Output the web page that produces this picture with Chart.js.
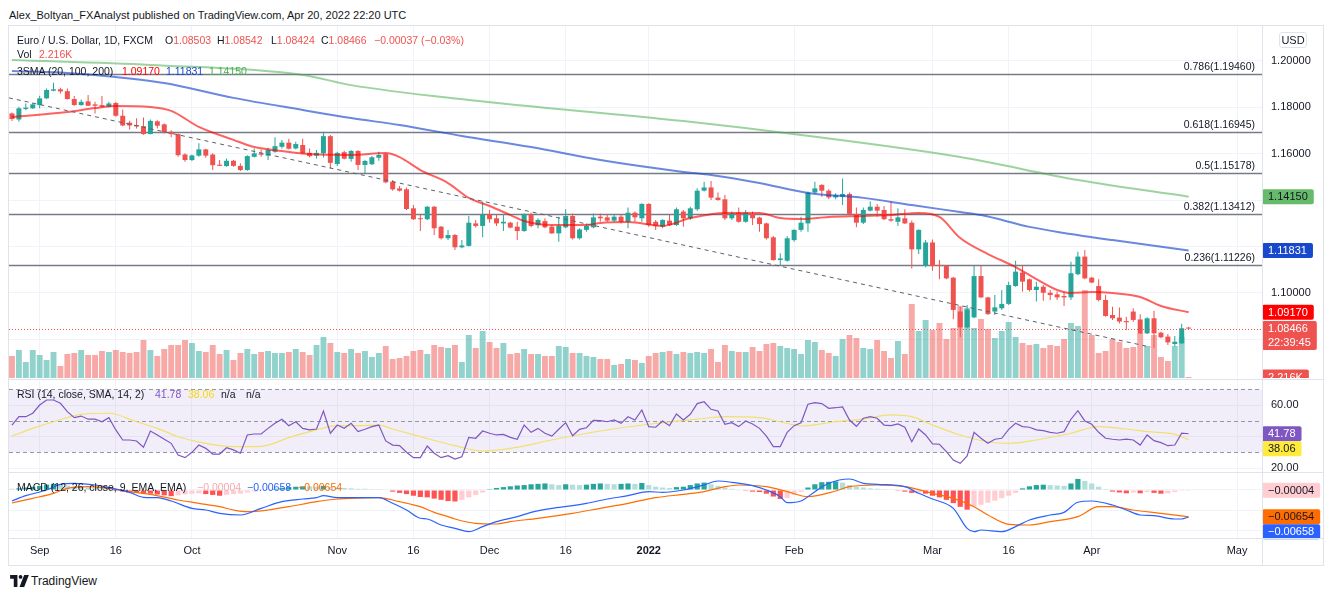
<!DOCTYPE html>
<html>
<head>
<meta charset="utf-8">
<title>EUR/USD 1D</title>
<script src="https://cdn.jsdelivr.net/npm/chart.js@4.4.0/dist/chart.umd.min.js"></script>
<style>
  body { margin: 0; width: 1332px; height: 597px; background: #fff; position: relative; overflow: hidden;
         font-family: "Liberation Sans", Arial, sans-serif; color: #131722; }
  canvas, .ln, .tx, svg { position: absolute; }
  .tx { font-size: 10.5px; line-height: 14px; white-space: pre; }
  .ln { background: #e0e3eb; }
  .dn { color: #ef5350; }
</style>
</head>
<body>
<div class="tx" style="left:9px;top:8px;font-size:11px">Alex_Boltyan_FXAnalyst published on TradingView.com, Apr 20, 2022 22:20 UTC</div>

<canvas id="cMain" width="1314" height="352" style="left:9px;top:26px"></canvas>
<canvas id="cRsi" width="1314" height="92" style="left:9px;top:380px"></canvas>
<canvas id="cMacd" width="1314" height="93" style="left:9px;top:472px"></canvas>

<!-- frame and pane separators -->
<div class="ln" style="left:8px;top:25px;width:1316px;height:1px"></div>
<div class="ln" style="left:8px;top:565px;width:1316px;height:1px"></div>
<div class="ln" style="left:8px;top:25px;width:1px;height:541px"></div>
<div class="ln" style="left:1323px;top:25px;width:1px;height:541px"></div>
<div class="ln" style="left:1262px;top:25px;width:1px;height:541px"></div>
<div class="ln" style="left:8px;top:379px;width:1316px;height:1px"></div>
<div class="ln" style="left:8px;top:472px;width:1316px;height:1px"></div>
<div class="ln" style="left:8px;top:538px;width:1316px;height:1px"></div>

<div class="tx" style="left:1279px;top:32px;width:26px;height:14px;border:1px solid #e0e3eb;border-radius:3px;text-align:center;font-size:11px">USD</div>

<div id="legend"></div>

<svg style="left:10px;top:575px" width="19" height="12" viewBox="0 0 36 23">
  <path d="M0 0h14v23H7V7H0z" fill="#131722"/>
  <circle cx="20" cy="3.6" r="3.6" fill="#131722"/>
  <path d="M27 0h9l-9 23h-9z" fill="#131722"/>
</svg>
<div class="tx" style="left:31px;top:574px;font-size:12px">TradingView</div>

<script>
// ---- DATA (EUR/USD daily, Aug 26 2021 .. Apr 21 2022) ----
const opens = [
  1.1774,1.1748,1.1793,1.1796,1.1810,1.1839,1.1872,1.1878,1.1870,1.1836,
  1.1810,1.1826,1.1813,1.1810,1.1803,1.1819,1.1764,1.1734,1.1724,1.1719,
  1.1685,1.1740,1.1727,1.1695,1.1685,1.1597,1.1573,1.1592,1.1619,1.1597,
  1.1553,1.1547,1.1570,1.1548,1.1530,1.1587,1.1602,1.1592,1.1609,1.1630,
  1.1648,1.1623,1.1638,1.1604,1.1592,1.1602,1.1676,1.1556,1.1607,1.1578,
  1.1612,1.1552,1.1555,1.1583,1.1599,1.1480,1.1451,1.1447,1.1365,1.1322,
  1.1318,1.1372,1.1286,1.1236,1.1250,1.1197,1.1203,1.1300,1.1289,1.1339,
  1.1322,1.1300,1.1303,1.1286,1.1267,1.1339,1.1292,1.1310,1.1286,1.1257,
  1.1283,1.1332,1.1236,1.1272,1.1283,1.1329,1.1326,1.1312,1.1329,1.1307,
  1.1346,1.1322,1.1384,1.1307,1.1286,1.1312,1.1293,1.1351,1.1322,1.1361,
  1.1441,1.1455,1.1411,1.1404,1.1322,1.1346,1.1307,1.1339,1.1325,1.1300,
  1.1240,1.1142,1.1139,1.1228,1.1272,1.1300,1.1433,1.1466,1.1441,1.1412,
  1.1415,1.1427,1.1341,1.1303,1.1355,1.1372,1.1358,1.1318,1.1307,1.1322,
  1.1303,1.1188,1.1118,1.1218,1.1121,1.1118,1.1066,1.0920,1.0852,1.0895,
  1.1073,1.0981,1.0920,1.0934,1.0953,1.1030,1.1088,1.1059,1.1013,1.1027,
  1.1001,1.0994,1.0987,1.0981,1.1081,1.1157,1.1066,1.1030,1.0970,1.0905,
  1.0894,1.0879,1.0920,1.0886,1.0826,1.0891,1.0829,1.0812,1.0780,1.0783,
  1.08503
];
const highs = [
  1.1778,1.1803,1.1817,1.1820,1.1850,1.1882,1.1906,1.1885,1.1882,1.1849,
  1.1834,1.1853,1.1824,1.1849,1.1824,1.1824,1.1791,1.1742,1.1753,1.1757,
  1.1748,1.1745,1.1731,1.1702,1.1688,1.1602,1.1597,1.1645,1.1622,1.1602,
  1.1573,1.1580,1.1573,1.1559,1.1594,1.1623,1.1619,1.1626,1.1671,1.1659,
  1.1665,1.1652,1.1665,1.1623,1.1616,1.1695,1.1681,1.1609,1.1613,1.1616,
  1.1616,1.1573,1.1591,1.1609,1.1602,1.1487,1.1461,1.1455,1.1379,1.1336,
  1.1375,1.1375,1.1289,1.1272,1.1254,1.1228,1.1332,1.1315,1.1394,1.1358,
  1.1341,1.1336,1.1307,1.1307,1.1343,1.1346,1.1322,1.1322,1.1293,1.1329,
  1.1361,1.1343,1.1279,1.1300,1.1343,1.1343,1.1336,1.1336,1.1336,1.1369,
  1.1351,1.1387,1.1387,1.1315,1.1318,1.1336,1.1369,1.1358,1.1372,1.1451,
  1.1480,1.1483,1.1433,1.1422,1.1351,1.1369,1.1358,1.1351,1.1329,1.1303,
  1.1246,1.1171,1.1246,1.1275,1.1329,1.1437,1.1480,1.1469,1.1447,1.1430,
  1.1494,1.1433,1.1369,1.1369,1.1394,1.1384,1.1375,1.1394,1.1365,1.1361,
  1.1312,1.1275,1.1228,1.1231,1.1142,1.1121,1.1070,1.0941,1.0948,1.1116,
  1.1116,1.0984,1.0991,1.1013,1.1049,1.1139,1.1121,1.1063,1.1049,1.1034,
  1.1013,1.1006,1.1006,1.1135,1.1178,1.1185,1.1070,1.1059,1.0991,1.0941,
  1.0938,1.0898,1.0934,1.0908,1.0895,1.0924,1.0833,1.0823,1.0815,1.0867,
  1.08542
];
const lows = [
  1.1741,1.1738,1.1788,1.1793,1.1796,1.1836,1.1870,1.1860,1.1834,1.1807,
  1.1807,1.1806,1.1774,1.1800,1.1800,1.1760,1.1719,1.1705,1.1709,1.1682,
  1.1684,1.1709,1.1688,1.1671,1.1587,1.1566,1.1569,1.1587,1.1583,1.1530,
  1.1547,1.1544,1.1544,1.1526,1.1527,1.1584,1.1587,1.1573,1.1604,1.1623,
  1.1619,1.1619,1.1599,1.1584,1.1580,1.1584,1.1537,1.1547,1.1576,1.1566,
  1.1530,1.1516,1.1552,1.1570,1.1473,1.1441,1.1437,1.1358,1.1315,1.1267,
  1.1315,1.1250,1.1231,1.1228,1.1185,1.1193,1.1200,1.1282,1.1240,1.1303,
  1.1289,1.1267,1.1279,1.1228,1.1264,1.1283,1.1279,1.1279,1.1254,1.1221,
  1.1279,1.1231,1.1231,1.1264,1.1279,1.1307,1.1307,1.1307,1.1300,1.1279,
  1.1307,1.1307,1.1286,1.1272,1.1279,1.1289,1.1289,1.1286,1.1315,1.1355,
  1.1437,1.1401,1.1398,1.1315,1.1315,1.1303,1.1303,1.1293,1.1264,1.1231,
  1.1139,1.1121,1.1135,1.1221,1.1264,1.1264,1.1427,1.1415,1.1404,1.1404,
  1.1379,1.1336,1.1283,1.1297,1.1351,1.1329,1.1315,1.1307,1.1289,1.1297,
  1.1106,1.1168,1.1111,1.1096,1.1059,1.1059,1.0887,1.0809,1.0848,1.0891,
  1.0977,1.0905,1.0905,1.0927,1.0948,1.1027,1.1006,1.1006,1.0963,1.0967,
  1.0970,1.0970,1.0944,1.0970,1.1077,1.1059,1.1042,1.0963,1.0898,1.0884,
  1.0869,1.0841,1.0876,1.0823,1.0823,1.0762,1.0805,1.0776,1.0769,1.0780,
  1.08424
];
const closes = [
  1.1750,1.1796,1.1799,1.1813,1.1839,1.1875,1.1878,1.1869,1.1836,1.1810,
  1.1824,1.1807,1.1807,1.1803,1.1817,1.1764,1.1722,1.1722,1.1718,1.1685,
  1.1742,1.1721,1.1694,1.1685,1.1594,1.1573,1.1593,1.1619,1.1592,1.1551,
  1.1548,1.1570,1.1548,1.1530,1.1590,1.1602,1.1596,1.1616,1.1633,1.1648,
  1.1622,1.1642,1.1602,1.1590,1.1604,1.1676,1.1561,1.1604,1.1579,1.1612,
  1.1552,1.1569,1.1585,1.1595,1.1477,1.1447,1.1441,1.1362,1.1318,1.1318,
  1.1372,1.1279,1.1236,1.1250,1.1197,1.1205,1.1303,1.1289,1.1339,1.1318,
  1.1300,1.1307,1.1282,1.1267,1.1341,1.1289,1.1315,1.1283,1.1257,1.1289,
  1.1332,1.1236,1.1274,1.1289,1.1326,1.1322,1.1312,1.1329,1.1307,1.1346,
  1.1326,1.1384,1.1293,1.1289,1.1315,1.1293,1.1361,1.1322,1.1365,1.1441,
  1.1455,1.1411,1.1401,1.1322,1.1343,1.1307,1.1346,1.1322,1.1297,1.1236,
  1.1142,1.1149,1.1236,1.1272,1.1303,1.1433,1.1451,1.1441,1.1412,1.1422,
  1.1427,1.1341,1.1303,1.1358,1.1372,1.1355,1.1318,1.1312,1.1326,1.1300,
  1.1188,1.1272,1.1218,1.1116,1.1116,1.1063,1.0927,1.0852,1.0929,1.1073,
  1.0981,1.0909,1.0938,1.0953,1.1034,1.1092,1.1049,1.1013,1.1027,1.1001,
  1.0991,1.0981,1.0981,1.1085,1.1157,1.1063,1.1045,1.0970,1.0901,1.0891,
  1.0877,1.0874,1.0884,1.0826,1.0891,1.0826,1.0809,1.0787,1.0790,1.0848,
  1.08466
];
const volumes = [
  22,28,16,28,23,18,26,12,24,25, 28,23,23,27,26,28,26,25,26,38,
  28,22,29,33,33,38,35,27,26,33, 24,28,18,25,29,24,26,27,25,25,
  26,29,26,23,33,41,35,26,25,29, 25,27,21,25,32,19,20,22,27,28,
  24,33,31,30,33,16,43,30,47,36, 30,35,24,25,29,24,24,22,22,32,
  31,25,25,22,21,19,19,13,14,19, 18,15,22,25,26,27,24,26,25,26,
  25,29,16,33,27,26,26,31,27,34, 35,32,30,29,24,38,36,28,25,22,
  39,43,40,30,29,38,27,20,37,24, 74,47,58,48,55,39,50,72,70,50,
  59,49,40,47,56,41,35,33,34,30, 33,32,39,55,52,88,43,25,27,39,
  36,30,31,45,32,43,21,17,32,41, 1
];
const volLabel = '2.216K';
const countdown = '22:39:45';

// moving averages: [bar index, value]
const sma20 = [[0,1.1759],[8,1.1780],[12,1.1797],[15,1.1806],[20,1.1802],[23,1.1785],[27,1.1716],[32,1.1660],
  [35,1.1629],[39,1.1612],[43,1.1599],[49,1.1595],[54,1.1603],[56,1.1586],[59,1.1530],[63,1.1474],[66,1.1410],
  [69,1.1375],[72,1.1336],[74,1.1310],[78,1.1293],[83,1.1293],[85,1.1302],[89,1.1306],[94,1.1289],[98,1.1323],
  [103,1.1345],[108,1.1345],[111,1.1323],[114,1.1319],[118,1.1328],[123,1.1332],[127,1.1336],[131,1.1345],
  [134,1.1328],[137,1.1237],[141,1.1168],[145,1.1112],[148,1.1060],[151,1.1013],[153,1.1000],[156,1.1004],
  [159,1.1000],[163,1.0983],[166,1.0944],[170,1.09170]];
const sma100 = [[0,1.1957],[8,1.1948],[15,1.1931],[22,1.1905],[32,1.1841],[42,1.1789],[49,1.1754],[56,1.1724],
  [65,1.1677],[75,1.1629],[85,1.1573],[97,1.1522],[101,1.1509],[108,1.1474],[115,1.1431],[123,1.1410],[130,1.1379],
  [137,1.1349],[140,1.1336],[147,1.1285],[152,1.1259],[159,1.1228],[170,1.11831]];
const sma200 = [[0,1.2004],[20,1.1983],[42,1.1940],[49,1.1896],[66,1.1832],[97,1.1741],[114,1.1681],[137,1.1586],
  [154,1.1487],[170,1.14150]];

const fibRatios = ['0.786', '0.618', '0.5', '0.382', '0.236'];
const fibLevels = [1.19460, 1.16945, 1.15178, 1.13412, 1.11226];
const trendLine = [[-0.43, 1.1841], [164.5, 1.0767]];

const rsi = [
  47.3,52.6,52.6,54.8,60.0,63.2,63.2,61.1,55.8,52.0, 53.0,51.0,51.0,49.4,52.0,44.2,37.8,37.8,37.2,33.2,
  43.5,41.0,38.3,35.7,28.3,26.6,30.0,34.6,32.5,28.9, 28.9,32.9,31.5,29.4,41.0,41.6,41.6,45.2,48.4,51.0,
  46.9,49.4,45.2,44.2,44.8,56.2,42.1,47.3,45.2,48.4, 43.1,44.6,46.3,47.3,37.2,34.6,34.2,30.0,26.6,26.6,
  34.0,29.4,26.6,27.8,25.7,27.2,39.5,38.9,43.5,42.1, 41.0,41.4,39.5,38.3,47.3,42.7,45.2,42.1,40.3,44.6,
  48.8,40.5,44.6,45.6,50.3,50.1,49.4,50.5,48.4,52.6, 50.5,56.9,46.3,45.9,49.9,46.9,54.3,50.5,54.1,60.9,
  62.1,57.3,56.2,47.8,48.8,46.3,49.9,48.0,45.2,40.3, 33.6,33.6,42.7,46.9,48.8,60.5,61.5,60.9,57.9,58.3,
  58.8,50.5,46.5,51.6,52.6,51.6,47.3,46.9,48.0,45.9, 36.7,44.8,41.0,35.3,35.1,30.4,25.1,23.0,27.7,42.7,
  38.9,35.7,38.3,38.9,44.6,48.4,46.3,45.9,44.2,43.7, 42.7,42.1,43.1,51.0,56.4,49.9,47.8,42.7,38.9,38.3,
  37.8,38.3,37.8,34.6,41.0,37.4,36.1,34.2,34.6,42.1, 41.78
];
const rsiMa = [[0,40.3],[3,45.2],[6,49.4],[10,54.1],[14,54.8],[18,49.4],[21,45.2],[24,39.9],[28,35.7],[32,33.6],
  [35,33.6],[37,34.6],[40,39.3],[44,44.2],[47,46.9],[50,46.9],[53,47.3],[55,44.8],[59,39.9],[64,34.2],[68,30.8],
  [72,32.5],[78,37.8],[85,43.5],[92,47.8],[99,51.0],[103,52.6],[108,52.0],[111,49.4],[114,46.7],[119,49.4],
  [123,51.1],[127,53.7],[130,52.6],[133,47.3],[137,41.0],[141,36.7],[144,35.7],[148,37.8],[153,42.1],[157,46.3],
  [161,44.8],[164,43.1],[168,41.4],[170,38.06]];

const macdLine = [[0,-0.00268],[2,-0.00139],[5,0.0],[7,0.00139],[9,0.00163],[12,0.00122],[14,0.00057],[17,-0.00057],
  [19,-0.00179],[21,-0.00187],[23,-0.00268],[26,-0.00447],[28,-0.00488],[30,-0.00569],[33,-0.0061],[36,-0.00447],
  [39,-0.00285],[42,-0.0022],[44,-0.00187],[45,-0.00139],[47,-0.00187],[51,-0.00187],[53,-0.00187],[55,-0.00325],
  [57,-0.00488],[59,-0.0069],[60,-0.00707],[62,-0.00854],[64,-0.00935],[66,-0.01016],[68,-0.00894],[70,-0.00772],
  [73,-0.0065],[75,-0.00545],[78,-0.00447],[81,-0.00382],[83,-0.00325],[86,-0.0022],[89,-0.00138],[92,-0.0004],
  [94,-0.00057],[97,0.0],[100,0.00122],[102,0.0022],[104,0.00187],[107,0.00106],[109,0.0],[111,-0.00163],
  [112,-0.0031],[114,-0.00268],[116,-0.0004],[118,0.00163],[121,0.00268],[123,0.00163],[125,0.00138],[129,0.00081],
  [131,-0.00081],[133,-0.0022],[136,-0.00447],[138,-0.00935],[139,-0.01016],[140,-0.00976],[143,-0.01016],
  [145,-0.00894],[147,-0.00732],[150,-0.0061],[152,-0.00545],[154,-0.003],[156,-0.00268],[159,-0.00366],
  [161,-0.00488],[163,-0.0061],[165,-0.00626],[168,-0.00707],[169,-0.00707],[170,-0.00658]];
const signalLine = [[0,-0.00317],[3,-0.00203],[6,-0.00081],[8,0.00041],[11,0.00081],[14,0.00041],[17,-0.00041],
  [20,-0.00106],[24,-0.00244],[27,-0.00325],[30,-0.00407],[32,-0.00488],[34,-0.00529],[37,-0.00488],[40,-0.00407],
  [44,-0.00285],[47,-0.0022],[49,-0.00203],[53,-0.00187],[56,-0.00285],[59,-0.00407],[61,-0.00545],[63,-0.0065],
  [64,-0.00707],[67,-0.00813],[70,-0.00829],[72,-0.00772],[76,-0.0069],[81,-0.00569],[85,-0.00447],[89,-0.00325],
  [93,-0.00187],[97,-0.00106],[100,-0.0004],[103,0.00081],[105,0.00122],[109,0.00081],[112,-0.0004],[115,-0.00163],
  [119,-0.00024],[121,0.00081],[125,0.00122],[129,0.00081],[133,-0.00081],[136,-0.00203],[139,-0.00407],
  [141,-0.0061],[144,-0.00837],[147,-0.00854],[150,-0.00772],[154,-0.0065],[157,-0.00407],[159,-0.00407],
  [162,-0.00488],[166,-0.00569],[170,-0.00654]];
const macdHist = [
  0.0003,0.0004,0.0006,0.0008,0.0010,0.0013,0.0015,0.0013,0.0011,0.0009,
  0.0008,0.0006,0.0005,0.0004,0.0003,-0.0002,-0.0004,-0.0005,-0.0007,-0.0008,
  -0.0009,-0.0011,-0.0013,-0.0015,-0.0013,-0.0011,-0.0009,-0.0008,-0.0010,-0.0012,
  -0.0014,-0.0012,-0.0010,-0.0009,-0.0006,-0.0004,-0.0002,0.0001,0.0003,0.0005,
  0.0007,0.0008,0.0009,0.0009,0.0008,0.0010,0.0007,0.0006,0.0005,0.0004,
  0.0003,0.0003,0.0002,0.0002,0.0000,-0.0004,-0.0007,-0.0010,-0.0014,-0.0017,
  -0.0018,-0.0021,-0.0024,-0.0027,-0.0028,-0.0024,-0.0018,-0.0012,-0.0006,0.0002,
  0.0005,0.0007,0.0009,0.0011,0.0012,0.0014,0.0015,0.0016,0.0014,0.0012,
  0.0014,0.0013,0.0012,0.0013,0.0015,0.0016,0.0015,0.0014,0.0015,0.0016,
  0.0015,0.0017,0.0012,0.0008,0.0006,0.0005,0.0007,0.0008,0.0012,0.0016,
  0.0018,0.0014,0.0010,0.0006,0.0003,-0.0001,-0.0002,-0.0004,-0.0005,-0.0009,
  -0.0016,-0.0022,-0.0020,-0.0012,-0.0005,0.0006,0.0014,0.0019,0.0020,0.0021,
  0.0018,0.0012,0.0008,0.0006,0.0004,0.0003,0.0002,0.0001,-0.0002,-0.0004,
  -0.0007,-0.0006,-0.0009,-0.0014,-0.0018,-0.0024,-0.0032,-0.0041,-0.0048,-0.0040,
  -0.0036,-0.0031,-0.0026,-0.0020,-0.0014,-0.0007,0.0004,0.0009,0.0012,0.0013,
  0.0012,0.0011,0.0010,0.0016,0.0027,0.0022,0.0016,0.0008,0.0002,-0.0004,
  -0.0006,-0.0008,-0.0006,-0.0008,-0.0005,-0.0007,-0.0009,-0.0008,-0.0005,-0.0002,
  -0.00004
];

const tickIdx = [4, 15, 26, 47, 58, 69, 80, 92, 113, 133, 144, 156, 177];
const tickText = ['Sep', '16', 'Oct', 'Nov', '16', 'Dec', '16', '2022', 'Feb', 'Mar', '16', 'Apr', 'May'];
const priceTicks = [1.08, 1.10, 1.12, 1.14, 1.16, 1.18, 1.20];
const rsiTicks = [20, 40, 60];
const macdTicks = [-0.01, -0.005, 0];

// ---- axis ranges (pane geometry) ----
const xMin = -0.43, xMax = 180.6;
const priceMin = 1.063362, priceMax = 1.215086;
const rsiMin = 17.49, rsiMax = 75.9;
const macdMin = -0.01171, macdMax = 0.00439;

const gridColor = '#f0f3fa';
const upColor = '#26a69a', downColor = '#ef5350';
const fontFamily = '"Liberation Sans", Arial, sans-serif';

Chart.defaults.font.family = fontFamily;
Chart.defaults.font.size = 11;
Chart.defaults.color = '#131722';
Chart.defaults.animation = false;
Chart.defaults.events = [];
Chart.defaults.plugins.legend.display = false;
Chart.defaults.plugins.tooltip.enabled = false;

const n = closes.length - 1;
const bars = closes.map((c, i) => i);
const up = i => closes[i] >= opens[i];
const pts = arr => arr.map(([x, y]) => ({ x, y }));
const last = arr => arr[arr.length - 1][1];
const fmt5 = v => (v < 0 ? '\u2212' : '') + Math.abs(v).toFixed(5);

function histColor(i) {
  const h = macdHist[i], p = i > 0 ? macdHist[i - 1] : h;
  if (h >= 0) return h > p ? '#26a69a' : '#b2dfdb';
  return h > p ? '#ffcdd2' : '#ff5252';
}

function xAxis(showLabels) {
  return {
    type: 'linear', min: xMin, max: xMax, offset: false,
    grid: { color: gridColor, drawTicks: false, offset: false },
    border: { display: false },
    afterBuildTicks: s => { s.ticks = tickIdx.map(v => ({ value: v })); },
    afterFit: s => { s.height = showLabels ? 27 : 0; s.paddingLeft = 0; s.paddingRight = 0; },
    ticks: {
      display: showLabels, padding: 6, maxRotation: 0, autoSkip: false, color: '#131722',
      font: c => ({ size: 11, weight: c.tick && c.tick.label === '2022' ? 'bold' : 'normal' }),
      callback: v => tickText[tickIdx.indexOf(v)]
    }
  };
}

function yAxis(min, max, ticks, fmt, hide) {
  return {
    position: 'right', min, max,
    grid: { color: gridColor, drawTicks: false },
    border: { display: false },
    afterBuildTicks: s => { s.ticks = [min, ...ticks, max].map(v => ({ value: v })); },
    afterFit: s => { s.width = 61; s.paddingTop = 0; s.paddingBottom = 0; },
    ticks: {
      padding: 9, autoSkip: false, color: '#131722', font: { size: 11 },
      callback: v => (v === min || v === max) ? null : (hide(v) ? '' : fmt(v))
    }
  };
}

function drawBadges(chart, items) {
  const ctx = chart.ctx, x0 = chart.chartArea.right;
  ctx.save();
  ctx.font = '11px ' + fontFamily;
  ctx.textBaseline = 'middle';
  ctx.textAlign = 'left';
  const rows = items.map(it => Object.assign({}, it, { y: chart.scales[it.axis].getPixelForValue(it.value) }))
    .sort((a, b) => a.y - b.y);
  let bottom = -Infinity;
  rows.forEach(r => {
    const lines = r.sub ? [r.text, r.sub] : [r.text];
    const h = lines.length === 2 ? 29 : 15;
    let top = r.y - 7.5;
    if (top < bottom) top = bottom;
    const w = Math.max(...lines.map(l => ctx.measureText(l).width)) + 12;
    ctx.fillStyle = r.bg;
    ctx.beginPath();
    if (ctx.roundRect) ctx.roundRect(x0, top, w, h, 2); else ctx.rect(x0, top, w, h);
    ctx.fill();
    ctx.fillStyle = r.fg;
    lines.forEach((l, k) => ctx.fillText(l, x0 + 6, top + 8 + k * 14));
    bottom = top + h;
  });
  ctx.restore();
}

// ---- MAIN PANE ----
const mainBadges = [
  { axis: 'y', value: last(sma200), text: fmt5(last(sma200)), bg: '#66bb6a', fg: '#131722' },
  { axis: 'y', value: last(sma100), text: fmt5(last(sma100)), bg: '#1848cc', fg: '#ffffff' },
  { axis: 'y', value: last(sma20), text: fmt5(last(sma20)), bg: '#ff0000', fg: '#ffffff' },
  { axis: 'y', value: closes[n], text: fmt5(closes[n]), sub: countdown, bg: '#ef5350', fg: '#ffffff' },
  { axis: 'yVol', value: volumes[n], text: volLabel, bg: '#ef5350', fg: '#ffffff' }
];
const priceBadgeVals = mainBadges.filter(b => b.axis === 'y').map(b => b.value);

function drawFibs(chart) {
  const { ctx, chartArea: a } = chart, y = chart.scales.y;
  ctx.save();
  ctx.font = '10.5px ' + fontFamily;
  ctx.textAlign = 'right';
  ctx.textBaseline = 'middle';
  fibLevels.forEach((lv, i) => {
    const py = Math.round(y.getPixelForValue(lv)) + 0.5;
    ctx.strokeStyle = '#787b86';
    ctx.lineWidth = 1.6;
    ctx.beginPath(); ctx.moveTo(a.left, py); ctx.lineTo(a.right, py); ctx.stroke();
    ctx.fillStyle = '#131722';
    ctx.fillText(fibRatios[i] + '(' + lv.toFixed(5) + ')', a.right - 7, py - 7);
  });
  ctx.restore();
}

function drawPriceLine(chart) {
  const { ctx, chartArea: a } = chart;
  const py = Math.round(chart.scales.y.getPixelForValue(closes[n])) + 0.5;
  ctx.save();
  ctx.strokeStyle = '#ef5350';
  ctx.lineWidth = 1;
  ctx.setLineDash([1, 2]);
  ctx.beginPath(); ctx.moveTo(a.left, py); ctx.lineTo(a.right, py); ctx.stroke();
  ctx.restore();
}

new Chart(document.getElementById('cMain'), {
  type: 'bar',
  data: {
    datasets: [
      { type: 'line', data: pts(trendLine), borderColor: '#5d606b', borderWidth: 1, borderDash: [4, 4],
        pointRadius: 0, yAxisID: 'y', order: 0 },
      { type: 'line', data: pts(sma200), borderColor: 'rgba(76,175,80,0.55)', borderWidth: 2, pointRadius: 0,
        cubicInterpolationMode: 'monotone', yAxisID: 'y', order: 0 },
      { type: 'line', data: pts(sma100), borderColor: 'rgba(24,72,204,0.65)', borderWidth: 2, pointRadius: 0,
        cubicInterpolationMode: 'monotone', yAxisID: 'y', order: 0 },
      { type: 'line', data: pts(sma20), borderColor: 'rgba(255,0,0,0.62)', borderWidth: 2, pointRadius: 0,
        cubicInterpolationMode: 'monotone', yAxisID: 'y', order: 0 },
      { data: bars.map(i => ({ x: i, y: [opens[i], closes[i]] })),
        backgroundColor: bars.map(i => up(i) ? upColor : downColor),
        barPercentage: 0.72, categoryPercentage: 1, grouped: false, minBarLength: 1, yAxisID: 'y', order: 1 },
      { data: bars.map(i => ({ x: i, y: [lows[i], highs[i]] })),
        backgroundColor: bars.map(i => up(i) ? upColor : downColor),
        barThickness: 1, inflateAmount: 0, grouped: false, yAxisID: 'y', order: 2 },
      { data: bars.map(i => ({ x: i, y: volumes[i] })),
        backgroundColor: bars.map(i => up(i) ? 'rgba(38,166,154,0.5)' : 'rgba(239,83,80,0.5)'),
        barPercentage: 0.85, categoryPercentage: 1, grouped: false, yAxisID: 'yVol', order: 5 }
    ]
  },
  options: {
    responsive: false, devicePixelRatio: 1, layout: { padding: 0 },
    scales: {
      x: xAxis(false),
      y: yAxis(priceMin, priceMax, priceTicks, v => v.toFixed(5),
               v => priceBadgeVals.some(b => Math.abs(b - v) < 0.006)),
      yVol: { display: false, min: 0, max: 352 }
    }
  },
  plugins: [{
    id: 'mainExtras',
    beforeDatasetsDraw: drawFibs,
    afterDatasetsDraw: drawPriceLine,
    afterDraw: c => drawBadges(c, mainBadges)
  }]
});

// ---- RSI PANE ----
const rsiBadges = [
  { axis: 'y', value: rsi[n], text: rsi[n].toFixed(2), bg: '#7e57c2', fg: '#ffffff' },
  { axis: 'y', value: last(rsiMa), text: last(rsiMa).toFixed(2), bg: '#ffeb3b', fg: '#131722' }
];

function drawRsiBand(chart) {
  const { ctx, chartArea: a } = chart, y = chart.scales.y;
  const top = y.getPixelForValue(70), bot = y.getPixelForValue(30);
  ctx.save();
  ctx.fillStyle = 'rgba(126,87,194,0.1)';
  ctx.fillRect(a.left, top, a.right - a.left, bot - top);
  ctx.strokeStyle = '#9598a1';
  ctx.lineWidth = 1;
  ctx.setLineDash([4, 3]);
  [70, 50, 30].forEach(v => {
    const py = Math.round(y.getPixelForValue(v)) + 0.5;
    ctx.beginPath(); ctx.moveTo(a.left, py); ctx.lineTo(a.right, py); ctx.stroke();
  });
  ctx.restore();
}

new Chart(document.getElementById('cRsi'), {
  type: 'line',
  data: {
    datasets: [
      { data: bars.map(i => ({ x: i, y: rsi[i] })), borderColor: '#7e57c2', borderWidth: 1.2, pointRadius: 0, order: 0 },
      { data: pts(rsiMa), borderColor: '#f2e06e', borderWidth: 1.2, pointRadius: 0,
        cubicInterpolationMode: 'monotone', order: 1 }
    ]
  },
  options: {
    responsive: false, devicePixelRatio: 1, layout: { padding: 0 },
    scales: {
      x: xAxis(false),
      y: yAxis(rsiMin, rsiMax, rsiTicks, v => v.toFixed(2),
               v => rsiBadges.some(b => Math.abs(b.value - v) < 5))
    }
  },
  plugins: [{ id: 'rsiExtras', beforeDatasetsDraw: drawRsiBand, afterDraw: c => drawBadges(c, rsiBadges) }]
});

// ---- MACD PANE ----
const macdBadges = [
  { axis: 'y', value: macdHist[n], text: fmt5(macdHist[n]), bg: '#ffcdd2', fg: '#131722' },
  { axis: 'y', value: last(signalLine), text: fmt5(last(signalLine)), bg: '#ff6d00', fg: '#131722' },
  { axis: 'y', value: last(macdLine), text: fmt5(last(macdLine)), bg: '#2962ff', fg: '#ffffff' }
];

new Chart(document.getElementById('cMacd'), {
  type: 'bar',
  data: {
    datasets: [
      { type: 'line', data: pts(macdLine), borderColor: '#2962ff', borderWidth: 1.2, pointRadius: 0,
        cubicInterpolationMode: 'monotone', order: 0 },
      { type: 'line', data: pts(signalLine), borderColor: '#ff6d00', borderWidth: 1.2, pointRadius: 0,
        cubicInterpolationMode: 'monotone', order: 1 },
      { data: bars.map(i => ({ x: i, y: macdHist[i] })), backgroundColor: bars.map(histColor),
        barPercentage: 0.75, categoryPercentage: 1, grouped: false, order: 2 }
    ]
  },
  options: {
    responsive: false, devicePixelRatio: 1, layout: { padding: 0 },
    scales: {
      x: xAxis(true),
      y: yAxis(macdMin, macdMax, macdTicks, fmt5, () => true)
    }
  },
  plugins: [{ id: 'macdExtras', afterDraw: c => drawBadges(c, macdBadges) }]
});

// ---- LEGENDS ----
const chg = closes[n] - opens[n];
const legendItems = [
  [17, 33, 'Euro / U.S. Dollar, 1D, FXCM', '#131722'],
  [165, 33, 'O<span class="dn">' + opens[n].toFixed(5) + '</span>', '#131722'],
  [217, 33, 'H<span class="dn">' + highs[n].toFixed(5) + '</span>', '#131722'],
  [271, 33, 'L<span class="dn">' + lows[n].toFixed(5) + '</span>', '#131722'],
  [321, 33, 'C<span class="dn">' + closes[n].toFixed(5) + '</span>', '#131722'],
  [374, 33, fmt5(chg) + ' (' + (chg < 0 ? '\u2212' : '') + Math.abs(chg / opens[n] * 100).toFixed(2) + '%)', '#ef5350'],
  [17, 47, 'Vol', '#131722'],
  [39, 47, volLabel, '#ef5350'],
  [17, 64, '3SMA (20, 100, 200)', '#131722'],
  [122, 64, fmt5(last(sma20)), '#ff0000'],
  [166, 64, fmt5(last(sma100)), '#1848cc'],
  [209, 64, fmt5(last(sma200)), '#4caf50'],
  [17, 387, 'RSI (14, close, SMA, 14, 2)', '#131722'],
  [155, 387, rsi[n].toFixed(2), '#7e57c2'],
  [188, 387, last(rsiMa).toFixed(2), '#f5d90a'],
  [221, 387, 'n/a', '#131722'],
  [246, 387, 'n/a', '#131722'],
  [17, 480, 'MACD (12, 26, close, 9, EMA, EMA)', '#131722'],
  [197, 480, fmt5(macdHist[n]), '#f7a8b0'],
  [247, 480, fmt5(last(macdLine)), '#2962ff'],
  [298, 480, fmt5(last(signalLine)), '#ff6d00']
];
document.getElementById('legend').innerHTML = legendItems.map(([x, y, html, col]) =>
  `<div class="tx" style="left:${x}px;top:${y}px;color:${col}">${html}</div>`).join('');
</script>
</body>
</html>
